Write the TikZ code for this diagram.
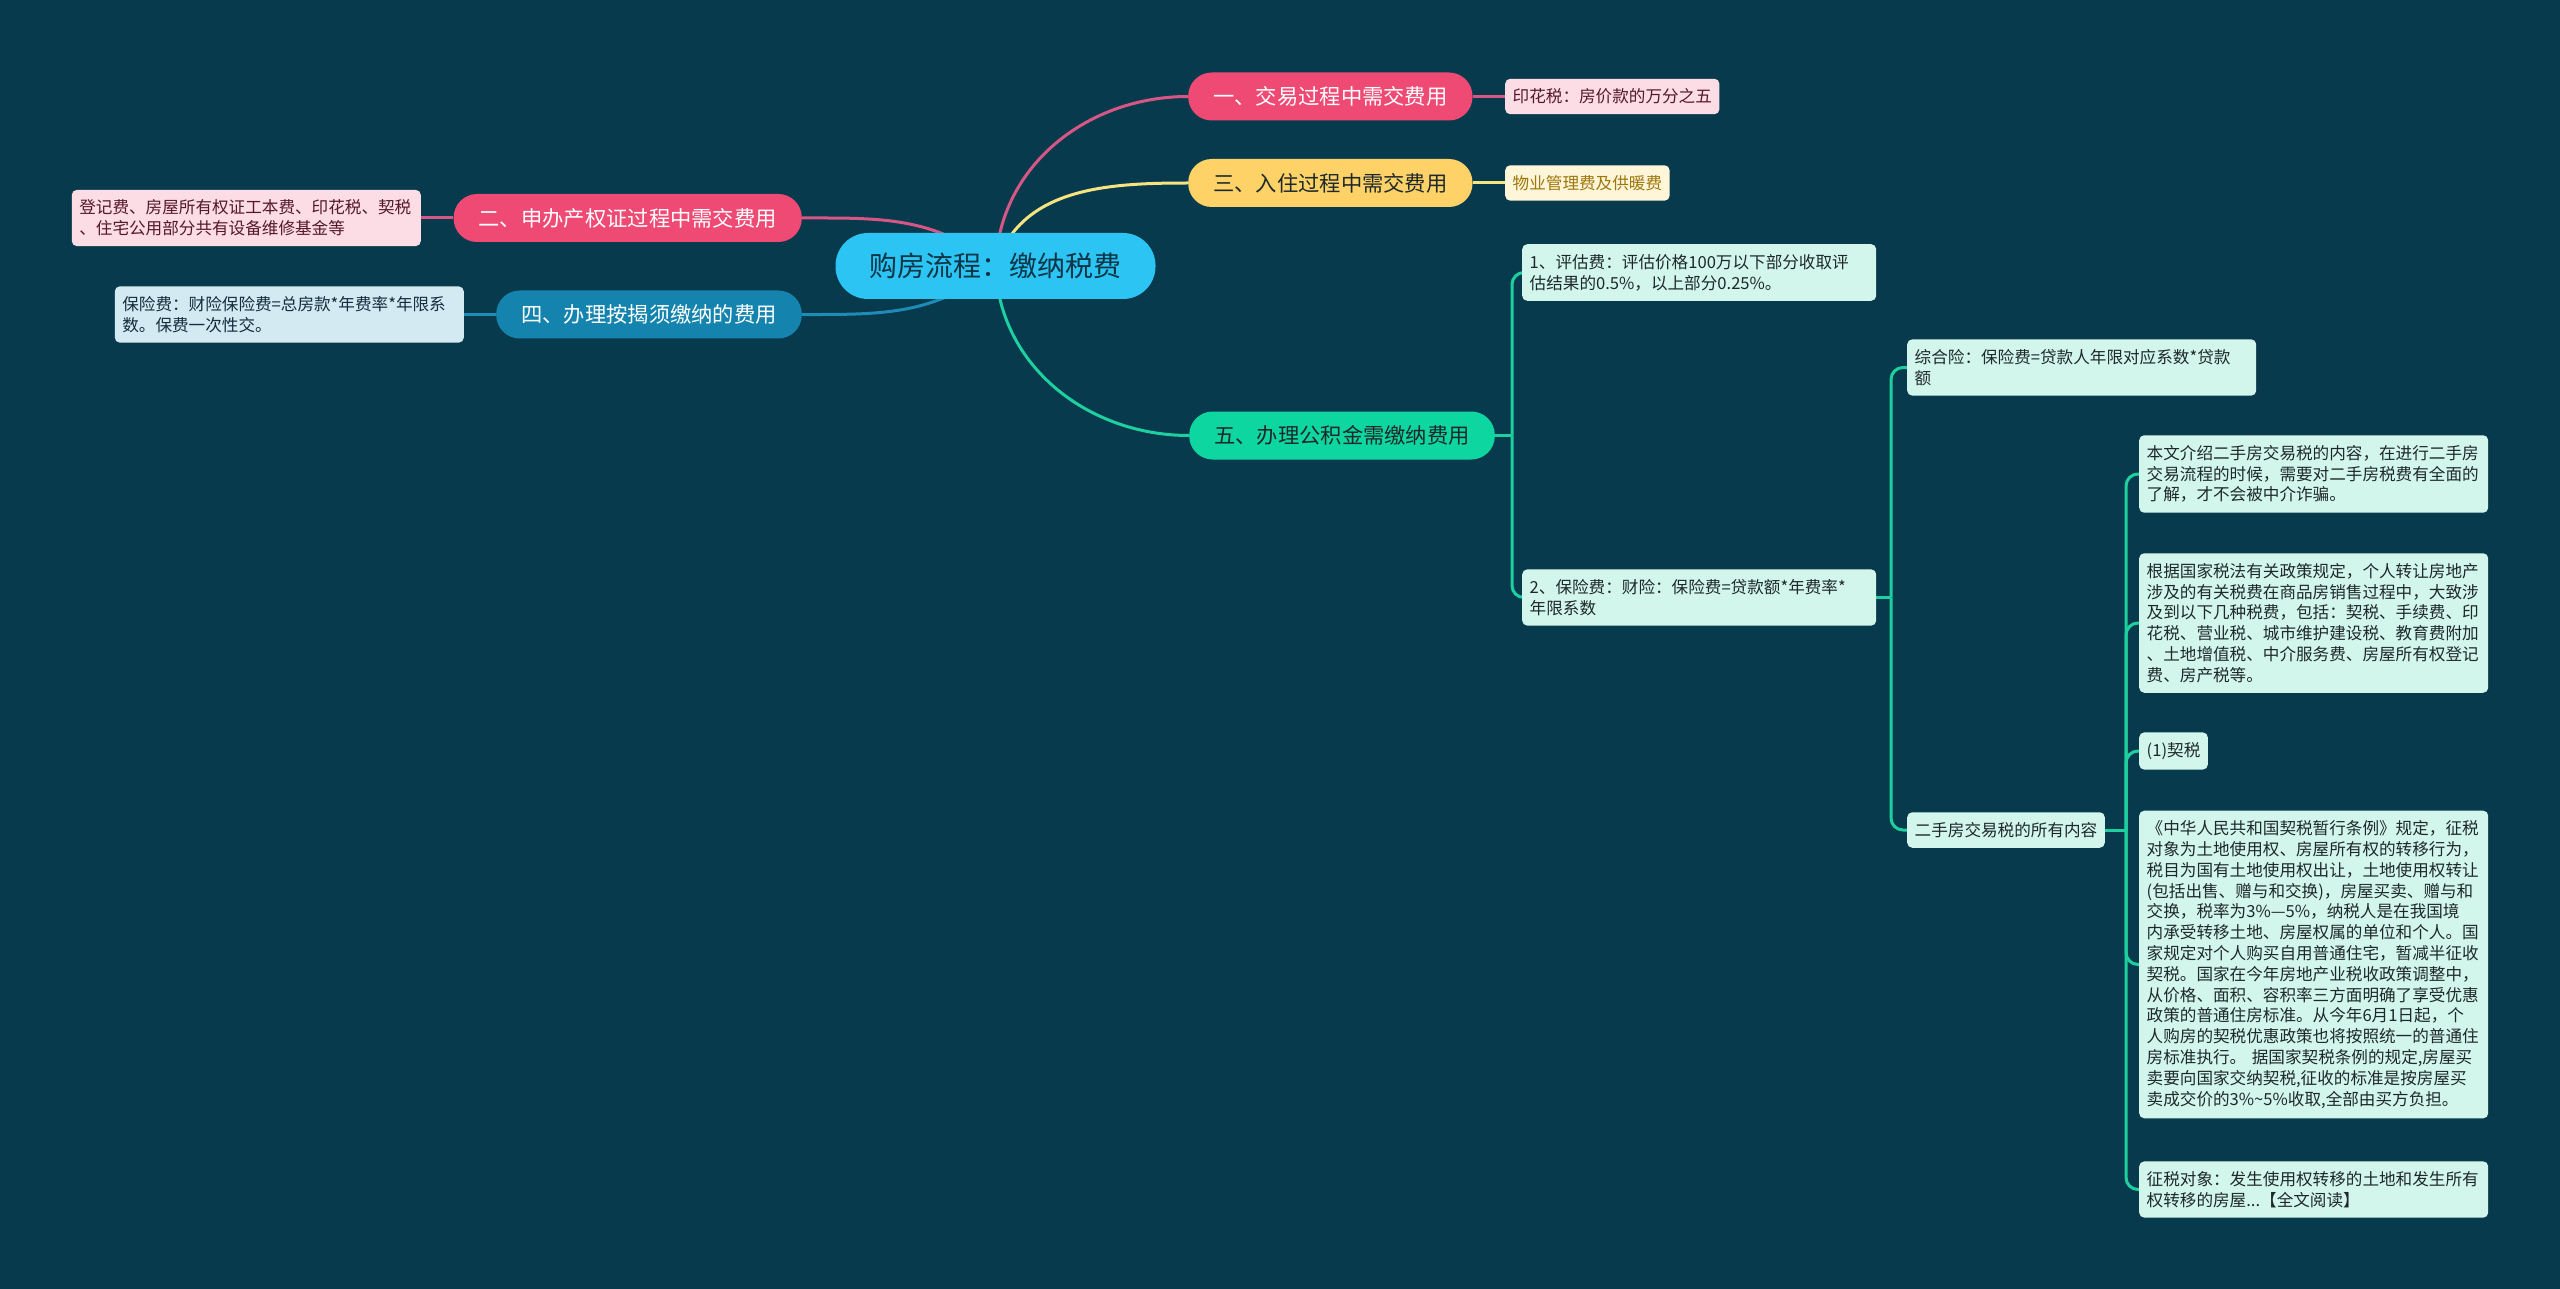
\documentclass[tikz,border=0pt]{standalone}
\usepackage{fontspec}
\setmainfont{Noto Sans CJK SC}
\usetikzlibrary{backgrounds}

\definecolor{bgnavy}{RGB}{8,58,77}
\definecolor{topicblue}{RGB}{44,196,242}
\definecolor{topicink}{RGB}{12,53,71}
\definecolor{rosefill}{RGB}{238,74,116}
\definecolor{roseline}{RGB}{214,86,134}
\definecolor{sunfill}{RGB}{254,210,102}
\definecolor{sunline}{RGB}{245,228,128}
\definecolor{mintfill}{RGB}{14,214,160}
\definecolor{mintline}{RGB}{30,208,160}
\definecolor{seafill}{RGB}{20,132,174}
\definecolor{sealine}{RGB}{30,140,182}
\definecolor{darkink}{RGB}{30,40,42}
\definecolor{roseleaf}{RGB}{252,221,229}
\definecolor{roseink}{RGB}{84,24,44}
\definecolor{sunleaf}{RGB}{255,246,218}
\definecolor{sunink}{RGB}{158,118,12}
\definecolor{mintleaf}{RGB}{210,246,236}
\definecolor{sealeaf}{RGB}{211,234,242}
\definecolor{seaink}{RGB}{20,45,60}

\begin{document}
\begin{tikzpicture}[
    x=1pt, y=-1pt,
    topic/.style={
        fill=topicblue, text=topicink,
        rounded corners=32.5pt,
        minimum height=66pt, inner xsep=34pt,
        font=\fontsize{28pt}{34pt}\selectfont
      },
    branch/.style={
        rounded corners=23.5pt,
        minimum height=48pt, inner xsep=25pt,
        font=\fontsize{21.3pt}{26pt}\selectfont
      },
    leaf/.style={
        rounded corners=5pt, align=left,
        inner xsep=7.5pt, inner ysep=10pt,
        font=\fontsize{16.6pt}{20.8pt}\selectfont
      },
    wide/.style={text width=334pt},
    wider/.style={text width=339pt},
    link/.style={line width=3pt},
    minttree/.style={link, draw=mintline, rounded corners=12pt}
  ]
  \useasboundingbox (0,0) rectangle (2560,1289);

  % centre and first level
  \node[topic] (c) at (995.5,266) {购房流程：缴纳税费};
  \node[branch, fill=rosefill, text=white, anchor=west] (b1) at (1188,96.5) {一、交易过程中需交费用};
  \node[branch, fill=sunfill, text=darkink, anchor=west] (b3) at (1188,183) {三、入住过程中需交费用};
  \node[branch, fill=mintfill, text=darkink, anchor=west] (b5) at (1189,435.5) {五、办理公积金需缴纳费用};
  \node[branch, fill=rosefill, text=white, anchor=east] (b2) at (802,218) {二、申办产权证过程中需交费用};
  \node[branch, fill=seafill, text=white, anchor=east] (b4) at (802,314.5) {四、办理按揭须缴纳的费用};

  % leaves of the short branches
  \node[leaf, fill=roseleaf, text=roseink, anchor=west] (l1) at (1505,96.5) {印花税：房价款的万分之五};
  \node[leaf, fill=sunleaf, text=sunink, anchor=west] (l3) at (1505,183) {物业管理费及供暖费};
  \node[leaf, wide, fill=roseleaf, text=roseink, anchor=east] (l2) at (421,218)
    {登记费、房屋所有权证工本费、印花税、契税\\、住宅公用部分共有设备维修基金等};
  \node[leaf, wide, fill=sealeaf, text=seaink, anchor=east] (l4) at (464,314.5)
    {保险费：财险保险费=总房款*年费率*年限系\\数。保费一次性交。};

  % branch five
  \coordinate (t5) at (1512,435.5);
  \node[leaf, wider, fill=mintleaf, text=darkink, anchor=west] (e1) at (1522,272.5)
    {1、评估费：评估价格100万以下部分收取评\\估结果的0.5\%，以上部分0.25\%。};
  \node[leaf, wider, fill=mintleaf, text=darkink, anchor=west] (e2) at (1522,597.5)
    {2、保险费：财险：保险费=贷款额*年费率*\\年限系数};

  \coordinate (t2) at (1891,597.5);
  \node[leaf, wide, fill=mintleaf, text=darkink, anchor=west] (f1) at (1907,367.5)
    {综合险：保险费=贷款人年限对应系数*贷款\\额};
  \node[leaf, fill=mintleaf, text=darkink, anchor=west] (f2) at (1907,830) {二手房交易税的所有内容};

  \coordinate (t3) at (2126,830);
  \node[leaf, wide, fill=mintleaf, text=darkink, anchor=west] (d1) at (2139,474)
    {本文介绍二手房交易税的内容，在进行二手房\\交易流程的时候，需要对二手房税费有全面的\\了解，才不会被中介诈骗。};
  \node[leaf, wide, fill=mintleaf, text=darkink, anchor=west] (d2) at (2139,623)
    {根据国家税法有关政策规定，个人转让房地产\\涉及的有关税费在商品房销售过程中，大致涉\\及到以下几种税费，包括：契税、手续费、印\\花税、营业税、城市维护建设税、教育费附加\\、土地增值税、中介服务费、房屋所有权登记\\费、房产税等。};
  \node[leaf, fill=mintleaf, text=darkink, anchor=west] (d3) at (2139,751) {(1)契税};
  \node[leaf, wide, fill=mintleaf, text=darkink, anchor=west] (d4) at (2139,964.5)
    {《中华人民共和国契税暂行条例》规定，征税\\对象为土地使用权、房屋所有权的转移行为，\\税目为国有土地使用权出让，土地使用权转让\\(包括出售、赠与和交换)，房屋买卖、赠与和\\交换，税率为3\%—5\%，纳税人是在我国境\\内承受转移土地、房屋权属的单位和个人。国\\家规定对个人购买自用普通住宅，暂减半征收\\契税。国家在今年房地产业税收政策调整中，\\从价格、面积、容积率三方面明确了享受优惠\\政策的普通住房标准。从今年6月1日起，个\\人购房的契税优惠政策也将按照统一的普通住\\房标准执行。 据国家契税条例的规定,房屋买\\卖要向国家交纳契税,征收的标准是按房屋买\\卖成交价的3\%\textasciitilde5\%收取,全部由买方负担。};
  \node[leaf, wide, fill=mintleaf, text=darkink, anchor=west] (d5) at (2139,1189.5)
    {征税对象：发生使用权转移的土地和发生所有\\权转移的房屋...【全文阅读】};

  \begin{pgfonlayer}{background}
    \fill[bgnavy] (0,0) rectangle (2560,1289);
    \path[link]
      (c.center) edge[draw=roseline, out=88, in=180] (b1.west)
      (c.center) edge[draw=sunline, out=72, in=180] (b3.west)
      (c.center) edge[draw=mintline, out=-88, in=180] (b5.west)
      (c.center) edge[draw=roseline, out=140, in=0] (b2.east)
      (c.center) edge[draw=sealine, out=220, in=0] (b4.east)
      (b1.east) edge[draw=roseline] (l1.west)
      (b3.east) edge[draw=sunline] (l3.west)
      (b2.west) edge[draw=roseline] (l2.east)
      (b4.west) edge[draw=sealine] (l4.east)
      (b5.east) edge[draw=mintline] (t5)
      (e2.east) edge[draw=mintline] (t2)
      (f2.east) edge[draw=mintline] (t3);
    \foreach \Leaf in {e1,e2}
    \draw[minttree] (t5) |- (\Leaf.west);
    \foreach \Leaf in {f1,f2}
    \draw[minttree] (t2) |- (\Leaf.west);
    \foreach \Leaf in {d1,d2,d3,d4,d5}
    \draw[minttree] (t3) |- (\Leaf.west);
  \end{pgfonlayer}
\end{tikzpicture}
\end{document}
